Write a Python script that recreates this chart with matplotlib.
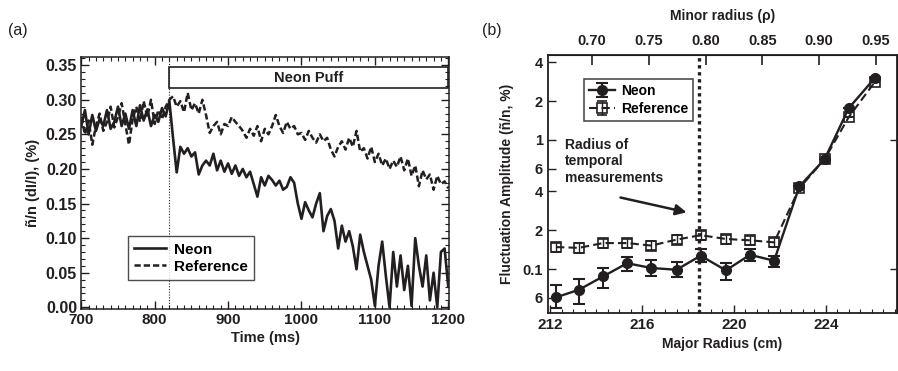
import numpy as np
import matplotlib
matplotlib.use("Agg")
import matplotlib.pyplot as plt
from matplotlib.patches import Rectangle
from matplotlib.ticker import MultipleLocator, NullLocator, FixedLocator

plt.rcParams['font.family'] = ['Liberation Sans', 'DejaVu Sans']
plt.rcParams['font.weight'] = 'bold'

INK = '#231f20'

# ---- panel (a): time traces, one sample every 5 ms from 700 to 1200 ms
time_ms = np.arange(700, 1201, 5)
neon_trace = [
    0.262, 0.285, 0.250, 0.278, 0.255, 0.272, 0.262, 0.285, 0.258, 0.268,
    0.290, 0.262, 0.280, 0.258, 0.285, 0.262, 0.292, 0.270, 0.286, 0.262,
    0.278, 0.268, 0.288, 0.276, 0.298, 0.245, 0.195, 0.232, 0.222, 0.230,
    0.218, 0.224, 0.192, 0.205, 0.212, 0.205, 0.222, 0.198, 0.212, 0.196,
    0.208, 0.193, 0.205, 0.190, 0.200, 0.188, 0.196, 0.178, 0.160, 0.188,
    0.176, 0.190, 0.184, 0.176, 0.183, 0.170, 0.174, 0.188, 0.180, 0.150,
    0.128, 0.152, 0.140, 0.130, 0.150, 0.165, 0.110, 0.132, 0.142, 0.125,
    0.085, 0.118, 0.095, 0.110, 0.088, 0.055, 0.105, 0.080, 0.060, 0.040,
    0.002, 0.060, 0.095, 0.045, 0.000, 0.080, 0.030, 0.075, 0.025, 0.060,
    0.002, 0.100, 0.060, 0.030, 0.075, 0.010, 0.050, 0.000, 0.080, 0.085,
    0.030,
]
ref_trace = [
    0.275, 0.250, 0.270, 0.235, 0.262, 0.280, 0.255, 0.268, 0.290, 0.260,
    0.275, 0.295, 0.265, 0.235, 0.272, 0.290, 0.268, 0.298, 0.275, 0.300,
    0.265, 0.285, 0.272, 0.290, 0.300, 0.305, 0.290, 0.298, 0.282, 0.310,
    0.285, 0.295, 0.280, 0.300, 0.278, 0.252, 0.262, 0.268, 0.250, 0.265,
    0.262, 0.275, 0.268, 0.262, 0.255, 0.245, 0.258, 0.248, 0.262, 0.240,
    0.258, 0.250, 0.262, 0.278, 0.262, 0.252, 0.268, 0.258, 0.262, 0.250,
    0.252, 0.242, 0.255, 0.245, 0.238, 0.250, 0.240, 0.245, 0.228, 0.218,
    0.232, 0.240, 0.228, 0.245, 0.232, 0.255, 0.225, 0.230, 0.215, 0.232,
    0.210, 0.222, 0.205, 0.215, 0.200, 0.212, 0.203, 0.218, 0.198, 0.215,
    0.190, 0.205, 0.175, 0.198, 0.185, 0.192, 0.170, 0.190, 0.178, 0.182,
    0.172,
]
puff_start = 820
puff_end = 1200

# ---- panel (b): radial profiles
major_radius = [212.25, 213.25, 214.3, 215.35, 216.4, 217.5, 218.55,
                219.65, 220.7, 221.75, 222.85, 223.95, 225.0, 226.15]
neon_amp = [0.0604, 0.0692, 0.0877, 0.111, 0.102, 0.0988, 0.127,
            0.0977, 0.129, 0.116, 0.436, 0.709, 1.76, 3.03]
neon_low = [0.0499, 0.0539, 0.071, 0.097, 0.088, 0.087, 0.114,
            0.083, 0.116, 0.103, 0.436, 0.709, 1.76, 3.03]
neon_high = [0.0757, 0.0837, 0.102, 0.125, 0.117, 0.114, 0.144,
             0.111, 0.143, 0.127, 0.436, 0.709, 1.76, 3.03]
ref_amp = [0.148, 0.146, 0.159, 0.159, 0.152, 0.169, 0.183,
           0.171, 0.167, 0.161, 0.423, 0.709, 1.50, 2.83]
ref_err = [0.012, 0.012, 0.013, 0.013, 0.012, 0.014, 0.015,
           0.014, 0.014, 0.013, 0.0, 0.0, 0.0, 0.0]
meas_radius = 218.5
rho_ticks = [0.70, 0.75, 0.80, 0.85, 0.90, 0.95]
amp_ticks = [0.06, 0.1, 0.2, 0.4, 0.6, 1, 2, 4]
amp_labels = ['6', '0.1', '2', '4', '6', '1', '2', '4']


def r_to_rho(r):
    return 0.825 + (np.asarray(r) - 220.0) * 0.05 / 2.473


def rho_to_r(rho):
    return 220.0 + (np.asarray(rho) - 0.825) * 2.473 / 0.05


fig = plt.figure(figsize=(8.98, 3.71), dpi=100)

# ================= (a)
ax1 = fig.add_axes([0.0905, 0.167, 0.4095, 0.679])
ax1.plot(time_ms, ref_trace, color=INK, lw=1.8, dashes=(2.5, 1.2), label='Reference')
ax1.plot(time_ms, neon_trace, color=INK, lw=1.9, label='Neon')
ax1.axvline(puff_start, color=INK, lw=0.8, ls=(0, (1, 1.5)))
ax1.add_patch(Rectangle((puff_start, 0.317), puff_end - puff_start, 0.030,
                        fill=False, ec=INK, lw=1.2, zorder=3))
ax1.text((puff_start + puff_end) / 2, 0.332, 'Neon Puff', ha='center', va='center',
         fontsize=10.5, fontweight='bold', color=INK)
ax1.set_xlim(700, 1201)
ax1.set_ylim(-0.0025, 0.3616)
ax1.xaxis.set_major_locator(MultipleLocator(100))
ax1.xaxis.set_minor_locator(MultipleLocator(10))
ax1.yaxis.set_major_locator(MultipleLocator(0.05))
ax1.yaxis.set_minor_locator(MultipleLocator(0.01))
ax1.yaxis.set_major_formatter(matplotlib.ticker.FormatStrFormatter('%.2f'))
ax1.tick_params(which='both', direction='in', top=True, right=True,
                labelsize=11.5, colors=INK, pad=3)
ax1.tick_params(axis='x', labelsize=11)
ax1.tick_params(which='major', length=6, width=1.0)
ax1.tick_params(which='minor', length=3, width=0.8)
for s in ax1.spines.values():
    s.set_linewidth(1.1)
    s.set_color(INK)
ax1.set_xlabel('Time (ms)', fontsize=10.5, fontweight='bold', color=INK, labelpad=3)
ax1.set_ylabel('ñ/n (dI/I), (%)', fontsize=10.5, fontweight='bold', color=INK, labelpad=4)
h, l = ax1.get_legend_handles_labels()
leg1 = ax1.legend(h[::-1], l[::-1], loc='lower left', bbox_to_anchor=(0.106, 0.086),
                  frameon=True, fancybox=False, edgecolor=INK, fontsize=11,
                  handlelength=2.1, handletextpad=0.5, borderpad=0.4, labelspacing=0.2)
leg1.get_frame().set_linewidth(1.0)
fig.text(0.009, 0.905, '(a)', fontsize=11.5, fontweight='normal', color=INK)

# ================= (b)
ax2 = fig.add_axes([0.6102, 0.1563, 0.3886, 0.6954])
ax2.set_yscale('log')
ax2.axvline(meas_radius, color=INK, lw=2.4, ls=(0, (1, 1.1)), zorder=1)
ax2.errorbar(major_radius, ref_amp, yerr=ref_err, color=INK, lw=1.5, dashes=(4, 2),
             marker='s', ms=7, mfc='none', mec=INK, mew=1.2, capsize=3.5,
             elinewidth=1.0, label='Reference', zorder=2)
neon_a = np.array(neon_amp)
ax2.errorbar(major_radius, neon_amp,
             yerr=[neon_a - np.array(neon_low), np.array(neon_high) - neon_a],
             color=INK, lw=1.7, marker='o', ms=7, mfc=INK, mec=INK,
             capsize=4, elinewidth=1.5, capthick=1.5, label='Neon', zorder=3)
ax2.set_xlim(211.9, 227.1)
ax2.set_ylim(0.0457, 4.54)
ax2.xaxis.set_major_locator(MultipleLocator(4))
ax2.xaxis.set_minor_locator(MultipleLocator(0.5))
ax2.yaxis.set_major_locator(FixedLocator(amp_ticks))
ax2.yaxis.set_minor_locator(NullLocator())
ax2.set_yticklabels(amp_labels)
ax2.tick_params(which='both', direction='in', labelsize=10.5, colors=INK)
ax2.tick_params(axis='x', labelsize=11)
ax2.tick_params(which='major', length=6, width=1.0)
ax2.tick_params(which='minor', length=3, width=0.8)
for s in ax2.spines.values():
    s.set_linewidth(1.3)
    s.set_color(INK)
ax2.set_xlabel('Major Radius (cm)', fontsize=10, fontweight='bold', color=INK, labelpad=4)
ax2.set_ylabel('Fluctuation Amplitude (ñ/n, %)', fontsize=10, fontweight='bold',
               color=INK, labelpad=6)

rax = ax2.secondary_yaxis('right')
rax.set_yticks([0.1, 1])
rax.set_yticklabels([])
rax.yaxis.set_minor_locator(NullLocator())
rax.tick_params(direction='in', length=5, width=1.0, colors=INK)

tax = ax2.secondary_xaxis('top', functions=(r_to_rho, rho_to_r))
tax.set_xticks(rho_ticks)
tax.set_xticklabels(['%.2f' % r for r in rho_ticks])
tax.xaxis.set_minor_locator(NullLocator())
tax.tick_params(direction='in', length=7, width=1.2, labelsize=10.5, colors=INK, pad=5)
tax.set_xlabel('Minor radius (ρ)', fontsize=10, fontweight='bold', color=INK, labelpad=10)

h, l = ax2.get_legend_handles_labels()
leg2 = ax2.legend(h[::-1], l[::-1], loc='upper left', bbox_to_anchor=(0.083, 0.935),
                  frameon=True, fancybox=False, edgecolor=INK, fontsize=10,
                  handlelength=1.9, handletextpad=0.4, borderpad=0.35, labelspacing=0.3)
leg2.get_frame().set_linewidth(1.2)

ax2.text(0.049, 0.68, 'Radius of\ntemporal\nmeasurements', transform=ax2.transAxes,
         ha='left', va='top', fontsize=10, fontweight='bold', color=INK, linespacing=1.25)
ax2.annotate('', xy=(0.405, 0.388), xytext=(0.20, 0.45), xycoords='axes fraction',
             textcoords='axes fraction',
             arrowprops=dict(arrowstyle='-|>', color=INK, lw=1.8, mutation_scale=16))
fig.text(0.537, 0.905, '(b)', fontsize=11.5, fontweight='normal', color=INK)

fig.savefig('out.png', dpi=100)
